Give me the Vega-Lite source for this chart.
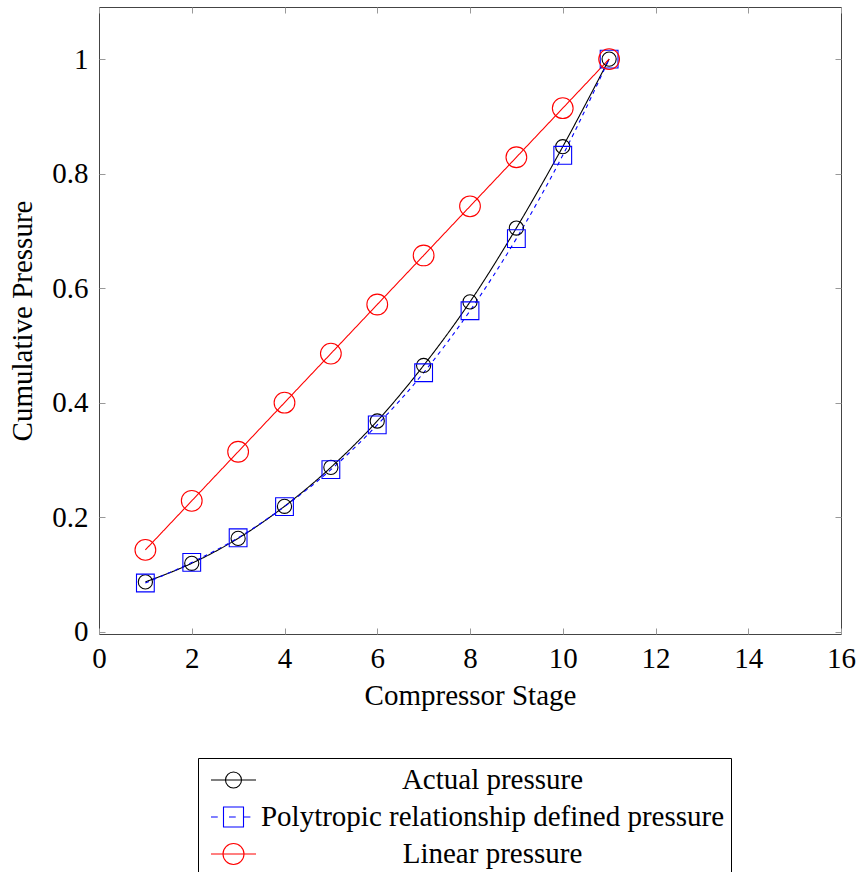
{
  "$schema": "https://vega.github.io/schema/vega-lite/v6.json",
  "width": 742,
  "height": 627,
  "autosize": {"type": "none"},
  "padding": {"left": 99, "top": 7, "right": 18, "bottom": 238},
  "background": "white",
  "data": {
    "values": [
      {"s": "Actual pressure", "stage": 1, "p": 0.087},
      {"s": "Actual pressure", "stage": 2, "p": 0.1195},
      {"s": "Actual pressure", "stage": 3, "p": 0.163},
      {"s": "Actual pressure", "stage": 4, "p": 0.219},
      {"s": "Actual pressure", "stage": 5, "p": 0.287},
      {"s": "Actual pressure", "stage": 6, "p": 0.368},
      {"s": "Actual pressure", "stage": 7, "p": 0.465},
      {"s": "Actual pressure", "stage": 8, "p": 0.576},
      {"s": "Actual pressure", "stage": 9, "p": 0.705},
      {"s": "Actual pressure", "stage": 10, "p": 0.847},
      {"s": "Actual pressure", "stage": 11, "p": 1.0},
      {"s": "Polytropic relationship defined pressure", "stage": 1, "p": 0.085},
      {"s": "Polytropic relationship defined pressure", "stage": 2, "p": 0.121},
      {"s": "Polytropic relationship defined pressure", "stage": 3, "p": 0.164},
      {"s": "Polytropic relationship defined pressure", "stage": 4, "p": 0.2185},
      {"s": "Polytropic relationship defined pressure", "stage": 5, "p": 0.283},
      {"s": "Polytropic relationship defined pressure", "stage": 6, "p": 0.3613},
      {"s": "Polytropic relationship defined pressure", "stage": 7, "p": 0.4523},
      {"s": "Polytropic relationship defined pressure", "stage": 8, "p": 0.5605},
      {"s": "Polytropic relationship defined pressure", "stage": 9, "p": 0.6865},
      {"s": "Polytropic relationship defined pressure", "stage": 10, "p": 0.832},
      {"s": "Polytropic relationship defined pressure", "stage": 11, "p": 1.0},
      {"s": "Linear pressure", "stage": 1, "p": 0.1429},
      {"s": "Linear pressure", "stage": 2, "p": 0.2286},
      {"s": "Linear pressure", "stage": 3, "p": 0.3143},
      {"s": "Linear pressure", "stage": 4, "p": 0.4},
      {"s": "Linear pressure", "stage": 5, "p": 0.4857},
      {"s": "Linear pressure", "stage": 6, "p": 0.5714},
      {"s": "Linear pressure", "stage": 7, "p": 0.6571},
      {"s": "Linear pressure", "stage": 8, "p": 0.7429},
      {"s": "Linear pressure", "stage": 9, "p": 0.8286},
      {"s": "Linear pressure", "stage": 10, "p": 0.9143},
      {"s": "Linear pressure", "stage": 11, "p": 1.0}
    ]
  },
  "layer": [
    {
      "mark": {"type": "line", "interpolate": "monotone", "strokeWidth": 1.1},
      "encoding": {
        "x": {"field": "stage", "type": "quantitative", "scale": {"domain": [0, 16], "nice": false, "zero": false},
          "axis": {"orient": "bottom", "title": "Compressor Stage", "values": [0, 2, 4, 6, 8, 10, 12, 14, 16], "format": "~g", "titlePadding": 8, "labelPadding": 16}},
        "y": {"field": "p", "type": "quantitative", "scale": {"domain": [-0.004, 1.091], "nice": false, "zero": false},
          "axis": {"orient": "left", "title": "Cumulative Pressure", "values": [0, 0.2, 0.4, 0.6, 0.8, 1], "format": "~g", "titlePadding": 14, "labelPadding": 17}},
        "color": {"field": "s", "type": "nominal", "sort": null,
          "scale": {"domain": ["Actual pressure", "Polytropic relationship defined pressure", "Linear pressure"], "range": ["#000000", "#0000ff", "#ff0000"]},
          "legend": null},
        "strokeDash": {"field": "s", "type": "nominal",
          "scale": {"domain": ["Actual pressure", "Polytropic relationship defined pressure", "Linear pressure"], "range": [[1, 0], [4, 4], [1, 0]]},
          "legend": null}
      }
    },
    {
      "mark": {"type": "point", "filled": false, "strokeWidth": 1.1, "opacity": 1},
      "encoding": {
        "x": {"field": "stage", "type": "quantitative",
          "axis": {"orient": "top", "title": null, "labels": false, "values": [0, 2, 4, 6, 8, 10, 12, 14, 16]}},
        "y": {"field": "p", "type": "quantitative",
          "axis": {"orient": "right", "title": null, "labels": false, "values": [0, 0.2, 0.4, 0.6, 0.8, 1]}},
        "color": {"field": "s", "type": "nominal", "legend": null},
        "shape": {"field": "s", "type": "nominal",
          "scale": {"domain": ["Actual pressure", "Polytropic relationship defined pressure", "Linear pressure"], "range": ["circle", "square", "circle"]},
          "legend": null},
        "size": {"field": "s", "type": "nominal",
          "scale": {"domain": ["Actual pressure", "Polytropic relationship defined pressure", "Linear pressure"], "range": [201, 430, 346]},
          "legend": null}
      }
    },
    {
      "mark": {"type": "point", "filled": false, "opacity": 0},
      "encoding": {
        "x": {"field": "stage", "type": "quantitative", "axis": null},
        "y": {"field": "p", "type": "quantitative", "axis": null},
        "color": {"field": "s", "type": "nominal", "legend": null},
        "shape": {"field": "s", "type": "nominal",
          "scale": {"domain": ["Actual pressure", "Polytropic relationship defined pressure", "Linear pressure"],
            "range": [
              "M-1.5,0L1.5,0M0.533,0A0.533,0.533,0,1,1,-0.533,0A0.533,0.533,0,1,1,0.533,0",
              "M-1.5,0L-1.05,0M-0.3,0L0.15,0M0.675,0L1.125,0M-0.667,-0.667L0.667,-0.667L0.667,0.667L-0.667,0.667Z",
              "M-1.5,0L1.5,0M0.7,0A0.7,0.7,0,1,1,-0.7,0A0.7,0.7,0,1,1,0.7,0"
            ]},
          "legend": {
            "title": null,
            "symbolStrokeColor": {"expr": "datum.value === 'Actual pressure' ? '#000000' : (datum.value === 'Linear pressure' ? '#ff0000' : '#0000ff')"},
            "symbolOpacity": 1
          }}
      }
    }
  ],
  "resolve": {"scale": {"shape": "independent", "size": "independent"}, "axis": {"x": "independent", "y": "independent"}},
  "config": {
    "view": {"stroke": "#444444", "strokeWidth": 1},
    "font": "Liberation Serif",
    "legend": {
      "orient": "none",
      "legendX": 99,
      "legendY": 751,
      "padding": 6,
      "symbolOffset": 13.5,
      "symbolSize": 900,
      "symbolStrokeWidth": 1.1,
      "symbolOpacity": 1,
      "symbolFillColor": "transparent",
      "labelAlign": "center",
      "labelOffset": 243,
      "labelLimit": 700,
      "labelFont": "Liberation Serif",
      "labelFontSize": 29,
      "labelColor": "#000000",
      "rowPadding": 6,
      "strokeColor": "#000000",
      "fillColor": "#ffffff",
      "cornerRadius": 0
    },
    "axis": {
      "domain": false,
      "grid": false,
      "tickColor": "#999999",
      "tickSize": -6,
      "tickWidth": 1,
      "labelFont": "Liberation Serif",
      "labelFontSize": 29,
      "labelColor": "#000000",
      "labelFlush": false,
      "labelOverlap": false,
      "titleFont": "Liberation Serif",
      "titleFontSize": 29,
      "titleFontWeight": "normal",
      "titleColor": "#000000"
    }
  }
}
